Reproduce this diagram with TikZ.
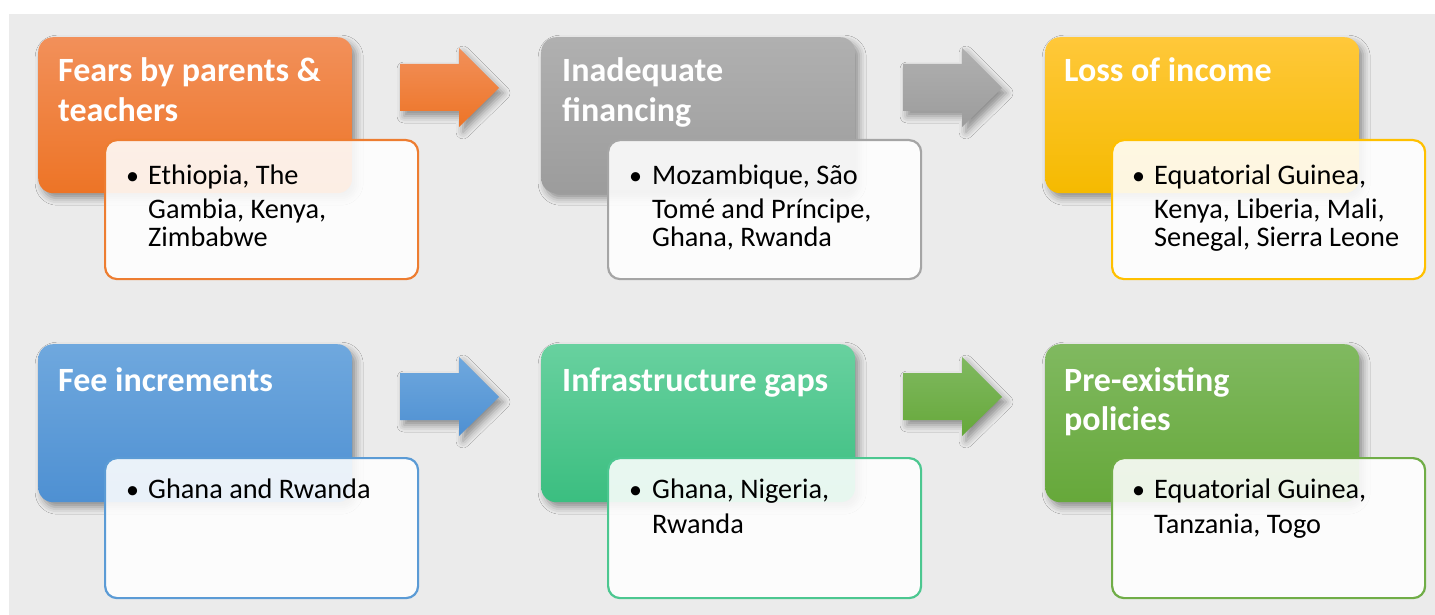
\documentclass[tikz,border=0pt]{standalone}
\usepackage{fontspec}
\setmainfont{Carlito}
\usetikzlibrary{shadows.blur}
\definecolor{bgc}{HTML}{EBEBEB}
\definecolor{orT}{HTML}{F2905A}\definecolor{orB}{HTML}{ED7426}\definecolor{orL}{HTML}{ED7D31}
\definecolor{grT}{HTML}{B0B0B0}\definecolor{grB}{HTML}{9C9C9C}\definecolor{grL}{HTML}{A5A5A5}
\definecolor{goT}{HTML}{FFC83A}\definecolor{goB}{HTML}{F5BA00}\definecolor{goL}{HTML}{FFC000}
\definecolor{blT}{HTML}{6FA8DE}\definecolor{blB}{HTML}{4E90D2}\definecolor{blL}{HTML}{5B9BD5}
\definecolor{teT}{HTML}{68D19F}\definecolor{teB}{HTML}{3BBE80}\definecolor{teL}{HTML}{4CC790}
\definecolor{gnT}{HTML}{80B960}\definecolor{gnB}{HTML}{66A83A}\definecolor{gnL}{HTML}{70AD47}
\begin{document}
\begin{tikzpicture}[x=1pt,y=-1pt,
  shadowed/.style={blur shadow={shadow xshift=4pt,shadow yshift=-5pt,shadow blur radius=7pt,shadow opacity=40}},
  catbox/.style={shadowed,rounded corners=15pt,minimum width=314pt,minimum height=#1,anchor=north west,inner sep=0pt,draw=none},
  listbox/.style={rounded corners=12pt,minimum width=313pt,minimum height=#1,anchor=north west,inner sep=0pt,fill=white,fill opacity=0.88,draw opacity=1,line width=2.2pt},
  blockarrow/.style={shadowed},
  ttl/.style={anchor=base west,inner sep=0pt,text=white,font=\fontsize{34}{40}\selectfont\bfseries},
  itm/.style={anchor=base west,inner sep=0pt,text=black,font=\fontsize{28.3}{34}\selectfont},
  bul/.style={anchor=base west,inner sep=0pt,text=black,font=\fontsize{26}{34}\selectfont}
]
\useasboundingbox (0,0) rectangle (1435,615);
\fill[bgc] (9,14) rectangle (1435,615);

% ---------- Row 1 ----------
\node[catbox=156pt,top color=orT,bottom color=orB] (c1) at (38,37) {};
\node[catbox=156pt,top color=grT,bottom color=grB] (c2) at (541,37) {};
\node[catbox=156pt,top color=goT,bottom color=goB] (c3) at (1045,37) {};

\path[blockarrow,top color=orT,bottom color=orB] (400,64) -- (459,64) -- (459,48) -- (499,88) -- (459,127) -- (459,111) -- (400,111) -- cycle;
\path[blockarrow,top color=grT,bottom color=grB] (903,64) -- (962,64) -- (962,48) -- (1002,88) -- (962,127) -- (962,111) -- (903,111) -- cycle;

\node[ttl] (t1a) at (58,82) {Fears by parents \&};
\node[ttl] (t1b) at (58,122) {teachers};
\node[ttl] (t2a) at (562,82) {Inadequate};
\node[ttl] (t2b) at (562,122) {financing};
\node[ttl] (t3a) at (1064,82) {Loss of income};

\node[listbox=139pt,draw=orL] (l1) at (104,139) {};
\node[listbox=139pt,draw=grL] (l2) at (607,139) {};
\node[listbox=139pt,draw=goL] (l3) at (1111,139) {};

\node[bul] (b1) at (126,184) {•};
\node[itm] (i1a) at (148,184) {Ethiopia, The};
\node[itm] (i1b) at (148,218) {Gambia, Kenya,};
\node[itm] (i1c) at (148,246) {Zimbabwe};

\node[bul] (b2) at (629,184) {•};
\node[itm] (i2a) at (652,184) {Mozambique, São};
\node[itm] (i2b) at (652,218) {Tomé and Príncipe,};
\node[itm] (i2c) at (652,246) {Ghana, Rwanda};

\node[bul] (b3) at (1132,184) {•};
\node[itm] (i3a) at (1154,184) {Equatorial Guinea,};
\node[itm] (i3b) at (1154,218) {Kenya, Liberia, Mali,};
\node[itm] (i3c) at (1154,246) {Senegal, Sierra Leone};

% ---------- Row 2 ----------
\node[catbox=158pt,top color=blT,bottom color=blB] (c4) at (38,344) {};
\node[catbox=158pt,top color=teT,bottom color=teB] (c5) at (541,344) {};
\node[catbox=158pt,top color=gnT,bottom color=gnB] (c6) at (1045,344) {};

\path[blockarrow,top color=blT,bottom color=blB] (400,373) -- (459,373) -- (459,357) -- (499,397) -- (459,436) -- (459,420) -- (400,420) -- cycle;
\path[blockarrow,top color=gnT,bottom color=gnB] (903,373) -- (962,373) -- (962,357) -- (1002,397) -- (962,436) -- (962,420) -- (903,420) -- cycle;

\node[ttl] (t4a) at (58,391) {Fee increments};
\node[ttl] (t5a) at (562,391) {Infrastructure gaps};
\node[ttl] (t6a) at (1064,391) {Pre-existing};
\node[ttl] (t6b) at (1064,430) {policies};

\node[listbox=140pt,draw=blL] (l4) at (104,457) {};
\node[listbox=140pt,draw=teL] (l5) at (607,457) {};
\node[listbox=140pt,draw=gnL] (l6) at (1111,457) {};

\node[bul] (b4) at (126,498) {•};
\node[itm] (i4a) at (148,498) {Ghana and Rwanda};

\node[bul] (b5) at (629,498) {•};
\node[itm] (i5a) at (652,498) {Ghana, Nigeria,};
\node[itm] (i5b) at (652,533) {Rwanda};

\node[bul] (b6) at (1132,498) {•};
\node[itm] (i6a) at (1154,498) {Equatorial Guinea,};
\node[itm] (i6b) at (1154,533) {Tanzania, Togo};
\end{tikzpicture}
\end{document}
